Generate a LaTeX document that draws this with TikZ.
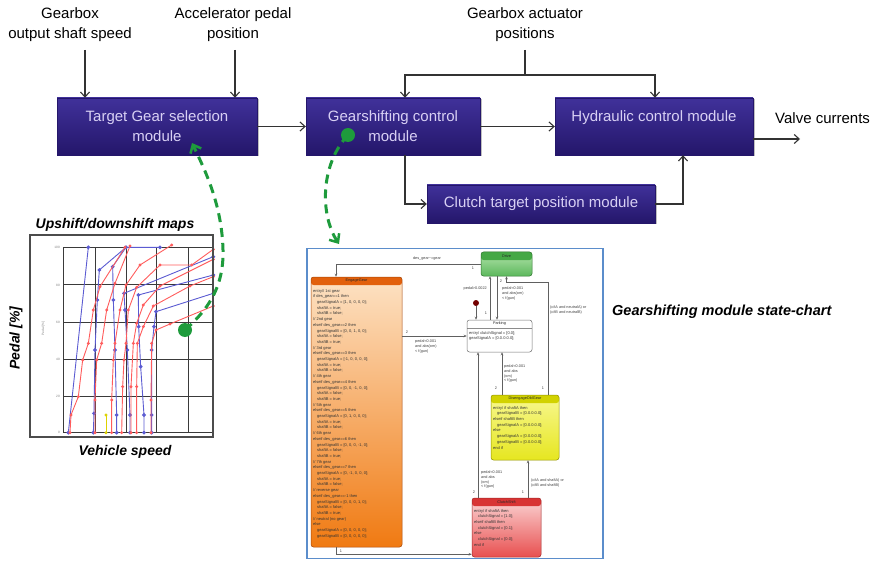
\documentclass[tikz,border=0pt]{standalone}
\usepackage{fontspec}
\setmainfont{Liberation Sans}
\usetikzlibrary{arrows.meta,shadows}

\definecolor{modtop}{HTML}{40319A}
\definecolor{modbot}{HTML}{24166A}
\definecolor{modtext}{HTML}{D8D0F4}
\definecolor{linegray}{HTML}{333333}
\definecolor{dashgreen}{HTML}{1E9B3C}
\definecolor{chartblue}{HTML}{5B8DCB}
\definecolor{mapred}{HTML}{FF5C5C}
\definecolor{mapblue}{HTML}{5B5BD2}
\definecolor{mapgrid}{HTML}{3A3A3A}
\definecolor{trgray}{HTML}{606060}
\definecolor{engHead}{HTML}{E2600C}
\definecolor{engTop}{HTML}{FDE2C4}
\definecolor{engBot}{HTML}{F07A12}
\definecolor{drvHead}{HTML}{45A845}
\definecolor{drvTop}{HTML}{B4E4AC}
\definecolor{drvBot}{HTML}{5CB85C}
\definecolor{disHead}{HTML}{D2D200}
\definecolor{disTop}{HTML}{F8F890}
\definecolor{disBot}{HTML}{E6E620}
\definecolor{csHead}{HTML}{D83434}
\definecolor{csTop}{HTML}{FBD4D4}
\definecolor{csBot}{HTML}{E85050}

\newcommand{\stind}{\hspace*{4pt}}

\begin{document}
\begin{tikzpicture}[x=1pt,y=-1pt,
  module/.style={top color=modtop, bottom color=modbot, draw=modbot, line width=0.4pt,
    text=modtext, font=\fontsize{15}{20}\selectfont, align=center, inner sep=0pt,
    drop shadow={shadow xshift=1.5pt, shadow yshift=-1.5pt, opacity=0.25, fill=black}},
  signal/.style={font=\fontsize{15}{20}\selectfont, align=center, text=black, inner sep=0pt},
  wire/.style={draw=linegray, line width=1.1pt},
  conn/.style={wire, -{Straight Barb[length=5pt,width=9pt,line width=1.1pt]}},
  greenlink/.style={draw=dashgreen, line width=3pt, dash pattern=on 9pt off 6pt,
    -{Straight Barb[length=7pt,width=12pt,line width=2.5pt]}},
  gdot/.style={circle, fill=dashgreen, minimum size=14pt, inner sep=0pt},
  title/.style={font=\fontsize{14}{16}\selectfont\bfseries\itshape, inner sep=0pt},
  gridline/.style={draw=mapgrid, line width=1pt},
  tick/.style={font=\fontsize{3.2}{4}\selectfont, text=gray, inner sep=0pt},
  redcurve/.style={draw=mapred, line width=0.9pt, mark=*, mark size=1pt, mark options={fill=mapred, draw=mapred}},
  bluecurve/.style={draw=mapblue, line width=0.9pt, mark=*, mark size=1.4pt, mark options={fill=mapblue, draw=mapblue}},
  stbox/.style={rounded corners=2.5pt, line width=0.5pt, inner sep=0pt},
  header/.style={path picture={\fill[#1] (path picture bounding box.north west) rectangle ([yshift=-8pt]path picture bounding box.north east);}},
  hname/.style={font=\fontsize{3.8}{4.5}\selectfont, text=black!85, inner sep=0pt},
  body/.style={font=\fontsize{4}{5.7}\selectfont, text=black!80, align=left, inner sep=0pt, anchor=north west},
  tr/.style={draw=trgray, line width=0.6pt, -{Stealth[length=3pt,width=2.5pt]}},
  trlab/.style={font=\fontsize{3.8}{4.6}\selectfont, text=black!75, align=left, inner sep=0pt}
]
\useasboundingbox (0,0) rectangle (880,561);
\fill[white] (0,0) rectangle (880,561);

% ---------------- block diagram ----------------
\node[signal] (lblSpeed) at (70,25) {Gearbox\\output shaft speed};
\node[signal] (lblPedal) at (233,25) {Accelerator pedal\\position};
\node[signal] (lblAct) at (525,25) {Gearbox actuator\\positions};
\node[signal, anchor=west] (lblValve) at (775,118) {Valve currents};

\node[module, minimum width=200pt, minimum height=57pt] (m1) at (157,126.5) {Target Gear selection\\module};
\node[module, minimum width=174pt, minimum height=57pt] (m2) at (393,126.5) {Gearshifting control\\module};
\node[module, minimum width=198pt, minimum height=57pt] (m3) at (654,126.5) {Hydraulic control module\\\phantom{x}};
\node[module, minimum width=228pt, minimum height=38pt] (m4) at (541,204) {Clutch target position module};

\coordinate (inSpeed) at (85,50);
\coordinate (inPedal) at (235,50);
\coordinate (actTap) at (525,50);
\coordinate (busMid) at (525,75);
\coordinate (busL) at (405,75);
\coordinate (busR) at (655,75);
\coordinate (valveEnd) at (800,139);

\draw[conn] (inSpeed) -- (inSpeed |- m1.north);
\draw[conn] (inPedal) -- (inPedal |- m1.north);
\draw[wire] (actTap) -- (busMid);
\draw[conn] (busMid) -- (busL) -- (busL |- m2.north);
\draw[conn] (busMid) -- (busR) -- (busR |- m3.north);
\draw[conn] (m1.east) -- (m2.west);
\draw[conn] (m2.east) -- (m3.west);
\draw[conn] (m3.east |- valveEnd) -- (valveEnd);
\draw[conn] ([xshift=12pt]m2.south) |- (m4.west);
\draw[conn] (m4.east) -| ([xshift=29pt]m3.south);

% ---------------- shift maps ----------------
\node[title] (mapTitle) at (115,225) {Upshift/downshift maps};
\node[title, rotate=90] (mapYlabel) at (16,338) {Pedal [\%]};
\node[title] (mapXlabel) at (125,452) {Vehicle speed};

\begin{scope}[shift={(0,200)}, x=1pt/3, y=-1pt/3]
  \foreach \gy in {142,255,368,478,590,698} \draw[gridline] (190,\gy) -- (640,\gy);
  \foreach \gx in {190,285,378,470,565} \draw[gridline] (\gx,142) -- (\gx,698);
  \foreach \gy/\gv in {142/100,255/80,368/60,478/40,590/20,698/0}
    \node[tick, anchor=east] (tk\gv) at (180,\gy) {\gv};
  \node[tick, rotate=90] (mapYsmall) at (130,385) {Pedal [\%]};

  % downshift lines
  \draw[bluecurve] plot coordinates {(205,698) (265,142)};
  \draw[bluecurve] plot coordinates {(280,698) (282,640) (285,450) (292,300) (298,210) (378,142)};
  \draw[bluecurve] plot coordinates {(350,698) (350,645) (345,450) (340,300) (338,200) (378,142) (480,142)};
  \draw[bluecurve] plot coordinates {(390,698) (390,645) (382,450) (375,330) (372,280) (640,170)};
  \draw[bluecurve] plot coordinates {(432,698) (432,645) (422,500) (416,380) (415,285) (640,225)};
  \draw[bluecurve] plot coordinates {(455,698) (455,645) (455,450) (462,380) (468,335) (640,280)};
  \draw[draw=yellow!70!olive, line width=0.8pt, mark=*, mark size=1.1pt, mark options={fill=yellow!70!olive}]
    plot coordinates {(318,698) (318,645)};

  % upshift lines
  \draw[redcurve] plot coordinates {(210,698) (213,645) (235,590) (248,480) (265,430) (280,330) (300,260) (375,142)};
  \draw[redcurve] plot coordinates {(285,698) (285,600) (290,480) (305,430) (320,330) (345,250) (390,138)};
  \draw[redcurve] plot coordinates {(335,698) (335,600) (340,480) (345,430) (360,330) (378,255) (420,195) (515,135)};
  \draw[redcurve] plot coordinates {(365,698) (368,560) (372,480) (378,430) (385,330) (410,262) (480,195) (575,195) (640,148)};
  \draw[redcurve] plot coordinates {(393,698) (393,560) (400,430) (410,370) (430,315) (480,258) (640,178)};
  \draw[redcurve] plot coordinates {(410,698) (410,560) (412,430) (430,380) (460,318) (570,258) (640,230)};
  \draw[redcurve] plot coordinates {(453,698) (453,600) (455,430) (468,390) (510,372) (640,318)};

  \draw[draw=black!70, line width=1.8pt] (90,105) rectangle (640,712);
\end{scope}

% ---------------- state chart ----------------
\node[draw=chartblue, line width=1.5pt, minimum width=296pt, minimum height=310pt, inner sep=0pt] (chart) at (455,403.5) {};
\node[font=\fontsize{14.5}{17}\selectfont\bfseries\itshape, anchor=west, inner sep=0pt] (chartLbl) at (612,312) {Gearshifting module state-chart};

% states
\node[stbox, draw=drvHead!70!black, top color=drvTop, bottom color=drvBot, header=drvHead,
      minimum width=51pt, minimum height=24pt] (drive) at (506.5,264) {};
\node[hname] (driveName) at ([yshift=-4pt]drive.north) {Drive};

\node[stbox, draw=engHead!75!black, top color=engTop, bottom color=engBot, header=engHead,
      minimum width=91pt, minimum height=270pt] (eng) at (356.5,412) {};
\node[hname] (engName) at ([yshift=-4pt]eng.north) {EngageGear};
\node[body] (engBody) at (313,289) {entry// 1st gear\\
if des\_gear==1 then\\
\stind gearSignalA = [1, 0, 0, 0, 0];\\
\stind shaftA = true;\\
\stind shaftB = false;\\
// 2nd gear\\
elseif des\_gear==2 then\\
\stind gearSignalB = [0, 0, 1, 0, 0];\\
\stind shaftA = false;\\
\stind shaftB = true;\\
// 3rd gear\\
elseif des\_gear==3 then\\
\stind gearSignalA = [-1, 0, 0, 0, 0];\\
\stind shaftA = true;\\
\stind shaftB = false;\\
// 4th gear\\
elseif des\_gear==4 then\\
\stind gearSignalB = [0, 0, -1, 0, 0];\\
\stind shaftA = false;\\
\stind shaftB = true;\\
// 5th gear\\
elseif des\_gear==5 then\\
\stind gearSignalA = [0, 1, 0, 0, 0];\\
\stind shaftA = true;\\
\stind shaftB = false;\\
// 6th gear\\
elseif des\_gear==6 then\\
\stind gearSignalB = [0, 0, 0, -1, 0];\\
\stind shaftA = false;\\
\stind shaftB = true;\\
// 7th gear\\
elseif des\_gear==7 then\\
\stind gearSignalA = [0, -1, 0, 0, 0];\\
\stind shaftA = true;\\
\stind shaftB = false;\\
// reverse gear\\
elseif des\_gear==-1 then\\
\stind gearSignalB = [0, 0, 0, 1, 0];\\
\stind shaftA = false;\\
\stind shaftB = true;\\
// neutral (no gear)\\
else\\
\stind gearSignalA = [0, 0, 0, 0, 0];\\
\stind gearSignalB = [0, 0, 0, 0, 0];};

\node[stbox, draw=black!55, fill=white, minimum width=65pt, minimum height=32pt,
      path picture={\draw[black!45, line width=0.4pt] ([yshift=-8pt]path picture bounding box.north west) -- ([yshift=-8pt]path picture bounding box.north east);}]
      (park) at (499.5,336) {};
\node[hname] (parkName) at ([yshift=-4pt]park.north) {Parking};
\node[body] (parkBody) at (469,331) {entry/ clutchSignal = [0.0];\\gearSignalA = [0.0.0.0.0];};

\node[stbox, draw=disHead!70!black, top color=disTop, bottom color=disBot, header=disHead,
      minimum width=68pt, minimum height=65pt] (dis) at (525,427.5) {};
\node[hname] (disName) at ([yshift=-4pt]dis.north) {DisengageOldGear};
\node[body] (disBody) at (493,406) {entry/ if shaftA then\\
\stind gearSignalB = [0.0.0.0.0];\\
elseif shaftB then\\
\stind gearSignalA = [0.0.0.0.0];\\
else\\
\stind gearSignalA = [0.0.0.0.0];\\
\stind gearSignalB = [0.0.0.0.0];\\
end if};

\node[stbox, draw=csHead!75!black, top color=csTop, bottom color=csBot, header=csHead,
      minimum width=69pt, minimum height=59pt] (cs) at (506.5,527.5) {};
\node[hname] (csName) at ([yshift=-4pt]cs.north) {ClutchShift};
\node[body] (csBody) at (474,509) {entry/ if shaftA then\\
\stind clutchSignal = [1.0];\\
elseif shaftB then\\
\stind clutchSignal = [0.1];\\
else\\
\stind clutchSignal = [0.0];\\
end if};

% initial pseudo-state
\node[circle, fill=red!45!black, minimum size=6pt, inner sep=0pt] (init) at (476,303) {};

% transitions
\draw[tr] (drive.west) -| ([xshift=-20.5pt]eng.north);
\node[trlab] (t1lab) at (427,259) {des\_gear\textasciitilde=gear};
\node[trlab] (t1n) at (473,268) {1};

\draw[tr] ([xshift=-9.5pt]park.north) -- ([xshift=-9.5pt]park.north |- drive.south);
\draw[tr] ([xshift=-2.5pt]park.north |- drive.south) -- ([xshift=-2.5pt]park.north);
\node[trlab, anchor=east] (t2lab) at (487,289) {pedal>0.0022};
\node[trlab] (t2n) at (486,313) {1};
\node[trlab] (t3n) at (501,281) {2};
\node[trlab, anchor=north west] (t3lab) at (502,287) {pedal<0.001\\and abs(om)\\< f(gun)};

\draw[tr] (init) -- (init |- park.north);

\draw[tr] ([xshift=23pt]dis.north) |- ([yshift=-6pt]drive.south) -- (drive.south);
\node[trlab, anchor=north west] (t4lab) at (550,306) {(c/tA and neutralA) or\\(c/tB and neutralB)};
\node[trlab] (t4n) at (543,388) {1};

\draw[tr] (eng.east |- park.west) -- (park.west);
\node[trlab] (t5n) at (407,332) {2};
\node[trlab, anchor=north west] (t5lab) at (415,340) {pedal<0.001\\and abs(om)\\< f(gun)};

\draw[tr] ([xshift=-23pt]dis.north) -- ([xshift=-23pt]dis.north |- park.south);
\node[trlab, anchor=north west] (t6lab) at (504,365) {pedal<0.001\\and abs\\(om)\\< f(gun)};
\node[trlab] (t6n) at (496,388) {2};

\draw[tr] ([xshift=-28.5pt]cs.north) -- ([xshift=-28.5pt]cs.north |- park.south);
\node[trlab, anchor=north west] (t7lab) at (481,471) {pedal<0.001\\and abs\\(om)\\< f(gun)};
\node[trlab] (t7n) at (474,492) {2};

\draw[tr] ([xshift=21.5pt]cs.north) -- ([xshift=21.5pt]cs.north |- dis.south);
\node[trlab, anchor=north west] (t8lab) at (531,479) {(c/tA and shaftA) or\\(c/tB and shaftB)};
\node[trlab] (t8n) at (523,492) {1};

\draw[tr] ([xshift=-20.5pt]eng.south) |- ([yshift=3pt]cs.south west);
\node[trlab] (t9n) at (341,551) {1};

% ---------------- green links ----------------
\coordinate (selTip) at (192,143);
\coordinate (chartTip) at (339,244);
\node[gdot] (mapDot) at (185,330) {};
\node[gdot] (gsDot) at (348,135) {};
\draw[greenlink] (mapDot.center) .. controls (205,312) and (224,290) .. (223,250)
                 .. controls (222,205) and (205,170) .. (selTip);
\draw[greenlink] (gsDot.center) .. controls (320,165) and (320,215) .. (chartTip);
\end{tikzpicture}
\end{document}
